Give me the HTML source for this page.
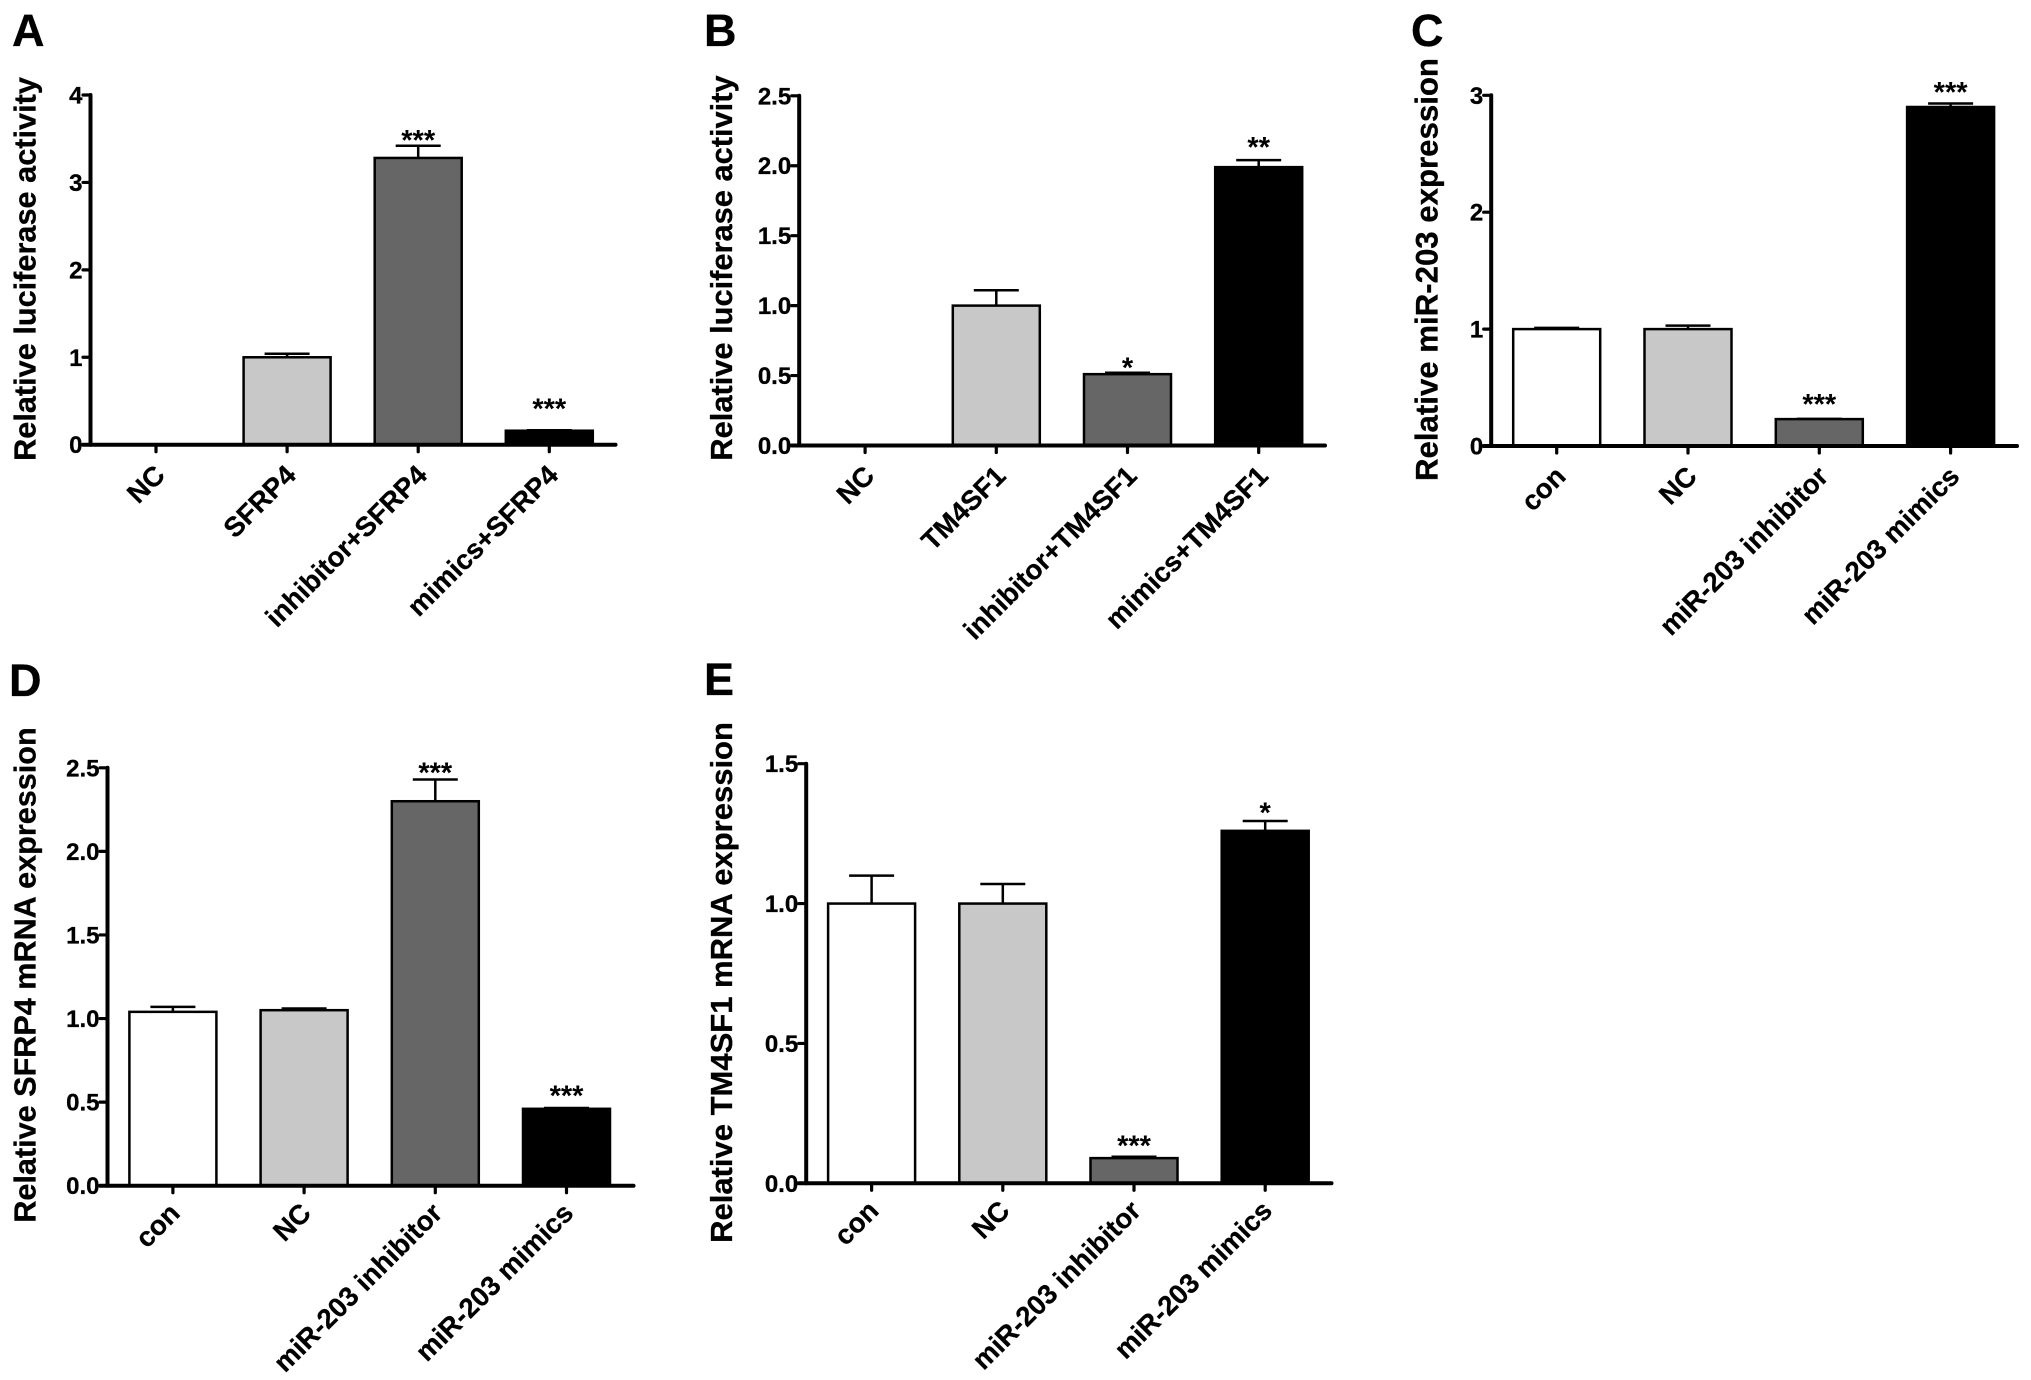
<!DOCTYPE html>
<html lang="en">
<head>
<meta charset="utf-8">
<title>miR-203 bar chart panels</title>
<style>
html,body{margin:0;padding:0;background:#fff;}
svg{display:block;}
text{font-family:"Liberation Sans",Arial,sans-serif;font-weight:bold;fill:#000;stroke:#000;stroke-width:0.3px;}
.letter{font-size:45px;}
.ytitle{font-size:30.7px;text-anchor:middle;}
</style>
</head>
<body>
<svg id="figure" xmlns="http://www.w3.org/2000/svg" width="2031" height="1380" viewBox="0 0 2031 1380">
  <rect x="0" y="0" width="2031" height="1380" fill="#fff"/>
  <text class="letter" x="12" y="46">A</text>
  <text class="letter" x="704" y="46">B</text>
  <text class="letter" x="1411" y="46">C</text>
  <text class="letter" x="9" y="696">D</text>
  <text class="letter" x="704" y="695">E</text>
  <text class="ytitle" transform="translate(35.5 269) rotate(-90)">Relative luciferase activity</text>
  <text class="ytitle" style="font-size:30.8px" transform="translate(732 268) rotate(-90)">Relative luciferase activity</text>
  <text class="ytitle" style="font-size:31.2px" transform="translate(1437.4 269.5) rotate(-90)">Relative miR-203 expression</text>
  <text class="ytitle" style="font-size:30.6px" transform="translate(35.5 975) rotate(-90)">Relative SFRP4 mRNA expression</text>
  <text class="ytitle" style="font-size:31px" transform="translate(732 982.5) rotate(-90)">Relative TM4SF1 mRNA expression</text>
</svg>
<script>
var categoriesA = ["NC", "SFRP4", "inhibitor+SFRP4", "mimics+SFRP4"];
var valuesA = [0, 1, 3.28, 0.16];
var errorsA = [0, 0.04, 0.14, 0.005];
var ticksA = ["0", "1", "2", "3", "4"];
var starsA = ["", "", "***", "***"];
var starLevelsA = [0, 0, 3.52, 0.448];

var categoriesB = ["NC", "TM4SF1", "inhibitor+TM4SF1", "mimics+TM4SF1"];
var valuesB = [0, 1, 0.51, 1.99];
var errorsB = [0, 0.11, 0.01, 0.05];
var ticksB = ["0.0", "0.5", "1.0", "1.5", "2.0", "2.5"];
var starsB = ["", "", "*", "**"];
var starLevelsB = [0, 0, 0.579, 2.156];

var categoriesC = ["con", "NC", "miR-203 inhibitor", "miR-203 mimics"];
var valuesC = [1, 1, 0.23, 2.9];
var errorsC = [0.01, 0.03, 0.002, 0.03];
var ticksC = ["0", "1", "2", "3"];
var starsC = ["", "", "***", "***"];
var starLevelsC = [0, 0, 0.386, 3.055];

var categoriesD = ["con", "NC", "miR-203 inhibitor", "miR-203 mimics"];
var valuesD = [1.04, 1.05, 2.3, 0.46];
var errorsD = [0.03, 0.01, 0.13, 0.005];
var ticksD = ["0.0", "0.5", "1.0", "1.5", "2.0", "2.5"];
var starsD = ["", "", "***", "***"];
var starLevelsD = [0, 0, 2.49, 0.557];

var categoriesE = ["con", "NC", "miR-203 inhibitor", "miR-203 mimics"];
var valuesE = [1, 1, 0.09, 1.26];
var errorsE = [0.1, 0.07, 0.005, 0.035];
var ticksE = ["0.0", "0.5", "1.0", "1.5"];
var starsE = ["", "", "***", "*"];
var starLevelsE = [0, 0, 0.145, 1.337];

var barFills = ["#ffffff", "#c8c8c8", "#666666", "#000000"];

var SVG_NS = "http://www.w3.org/2000/svg";
var figure = document.getElementById("figure");

function make(parent, tag, attrs) {
  var el = document.createElementNS(SVG_NS, tag);
  for (var k in attrs) { el.setAttribute(k, attrs[k]); }
  parent.appendChild(el);
  return el;
}

function drawPanel(id, frame, categories, values, errors, ticks, stars, starLevels) {
  var group = make(figure, "g", {});
  
  

  var maxTick = parseFloat(ticks[ticks.length - 1]);
  function yScale(v) { return frame.y0 - (v / maxTick) * (frame.y0 - frame.yTop); }
  function xScale(i) { return frame.x0 + i * frame.band; }

  values.forEach(function (v, i) {
    var cx = xScale(i);
    if (v > 0) {
      if (errors[i] > 0) {
        var stem = make(group, "line", { x1: cx, x2: cx, y1: yScale(v), y2: yScale(v + errors[i]), stroke: "#000", "stroke-width": 2.5 });
        
        
        var cap = make(group, "line", { x1: cx - 22.5, x2: cx + 22.5, y1: yScale(v + errors[i]), y2: yScale(v + errors[i]), stroke: "#000", "stroke-width": 2.5 });
        
        
      }
      var bar = make(group, "rect", { x: cx - 43.5, y: yScale(v), width: 87, height: frame.y0 - yScale(v), fill: barFills[i], stroke: "#000", "stroke-width": 2.5 });
      
      
    }
    if (stars[i]) {
      var star = make(group, "text", { x: cx, y: yScale(starLevels[i]) + 13, "text-anchor": "middle", style: "font-size:29px;stroke-width:0" });
      star.textContent = stars[i];
      
      
    }
    var tick = make(group, "line", { x1: cx, x2: cx, y1: frame.y0, y2: frame.y0 + 7, stroke: "#000", "stroke-width": 3.2, "stroke-linecap": "round" });
    
    
    var lx = cx + 8 + frame.labelDx;
    var ly = frame.y0 + 32 + frame.labelDy;
    var label = make(group, "text", { x: lx, y: ly, "text-anchor": "end", transform: "rotate(-45 " + lx + " " + ly + ")", style: "font-size:27.5px" });
    label.textContent = categories[i];
    
    
  });

  ticks.forEach(function (t, i) {
    var y = yScale(parseFloat(t));
    var mark = make(group, "line", { x1: frame.axisX - 7.5, x2: frame.axisX, y1: y, y2: y, stroke: "#000", "stroke-width": 3.2, "stroke-linecap": "round" });
    
    
    var text = make(group, "text", { x: frame.axisX - 8, y: y + 8.5, "text-anchor": "end", style: "font-size:24px" });
    text.textContent = t;
    
    
  });

  var yAxis = make(group, "line", { x1: frame.axisX, x2: frame.axisX, y1: frame.yTop, y2: frame.y0, stroke: "#000", "stroke-width": 4, "stroke-linecap": "round" });
  
  
  var xAxis = make(group, "line", { x1: frame.axisX - 7.5, x2: frame.xEnd, y1: frame.y0, y2: frame.y0, stroke: "#000", "stroke-width": 4, "stroke-linecap": "round" });
  
  
}

drawPanel("a", { axisX: 90.5, yTop: 95, y0: 444.7, xEnd: 615.5, x0: 156, band: 131.1, labelDx: 2.5, labelDy: 0 }, categoriesA, valuesA, errorsA, ticksA, starsA, starLevelsA);
drawPanel("b", { axisX: 799.2, yTop: 95.8, y0: 445.5, xEnd: 1325, x0: 865.1, band: 131.2, labelDx: 3, labelDy: 0 }, categoriesB, valuesB, errorsB, ticksB, starsB, starLevelsB);
drawPanel("c", { axisX: 1491.2, yTop: 95.3, y0: 446, xEnd: 2017, x0: 1556.7, band: 131.3, labelDx: 2.5, labelDy: 0 }, categoriesC, valuesC, errorsC, ticksC, starsC, starLevelsC);
drawPanel("d", { axisX: 107.5, yTop: 767.8, y0: 1185.7, xEnd: 633.5, x0: 172.9, band: 131.2, labelDx: 0.5, labelDy: -3 }, categoriesD, valuesD, errorsD, ticksD, starsD, starLevelsD);
drawPanel("e", { axisX: 806.2, yTop: 763.7, y0: 1183.3, xEnd: 1331.5, x0: 871.6, band: 131.2, labelDx: 0.5, labelDy: -3 }, categoriesE, valuesE, errorsE, ticksE, starsE, starLevelsE);
</script>
</body>
</html>
